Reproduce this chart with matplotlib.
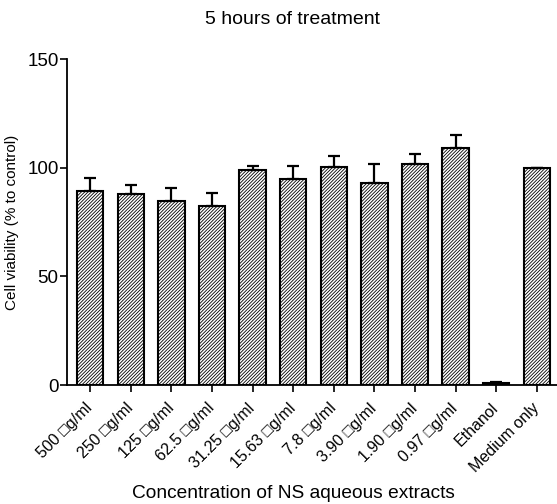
import matplotlib
matplotlib.use("Agg")
import matplotlib.pyplot as plt
import numpy as np

plt.rcParams['font.family'] = ['Liberation Sans', 'DejaVu Sans']
plt.rcParams['hatch.linewidth'] = 0.6
plt.rcParams['hatch.color'] = '#444444'

categories = ["500 \u25a1g/ml", "250 \u25a1g/ml", "125 \u25a1g/ml", "62.5 \u25a1g/ml",
              "31.25 \u25a1g/ml", "15.63 \u25a1g/ml", "7.8 \u25a1g/ml", "3.90 \u25a1g/ml",
              "1.90 \u25a1g/ml", "0.97 \u25a1g/ml", "Ethanol", "Medium only"]
viability = [89.4, 87.9, 84.8, 82.4, 98.8, 94.7, 100.2, 92.8, 101.8, 109.1, 1.0, 100.0]
err_upper = [6.0, 4.3, 5.7, 5.8, 2.0, 6.1, 5.2, 8.9, 4.6, 5.9, 0.6, 0.0]
yticks = [0, 50, 100, 150]

fig = plt.figure(figsize=(5.57, 5.04), dpi=100)
ax = fig.add_axes([67/557, 1-385/504, 1-67/557, (385-59)/504])

x = np.arange(len(categories))
ax.bar(x, viability, width=0.65, color='white', edgecolor='black', linewidth=1.5,
       hatch='//////////', zorder=2)
yerr = np.vstack([np.zeros(len(err_upper)), err_upper])
ax.errorbar(x, viability, yerr=yerr, fmt='none', ecolor='black', elinewidth=1.6,
            capsize=4, capthick=1.6, zorder=3)

ax.set_xlim(-0.57, 11.5)
ax.set_ylim(0, 150)
ax.set_yticks(yticks)
ax.set_yticklabels([str(v) for v in yticks], fontsize=13.5)
ax.set_xticks(x)
ax.set_xticklabels(categories, rotation=45, ha='right', va='center',
                   rotation_mode='anchor', fontsize=11.5)
ax.tick_params(axis='both', direction='out', length=5, width=1.2, color='black')
ax.tick_params(axis='x', pad=10)
ax.tick_params(axis='y', pad=1)
for s in ['top', 'right']:
    ax.spines[s].set_visible(False)
for s in ['left', 'bottom']:
    ax.spines[s].set_linewidth(1.3)

ax.set_ylabel("Cell viability (% to control)", fontsize=11, labelpad=6)
fig.text(293/557, 1-494/504, "Concentration of NS aqueous extracts", fontsize=13.8,
         ha='center', va='center')
fig.text(292.5/557, 1-20/504, "5 hours of treatment", fontsize=14,
         ha='center', va='center')

fig.savefig("out.png", dpi=100)
